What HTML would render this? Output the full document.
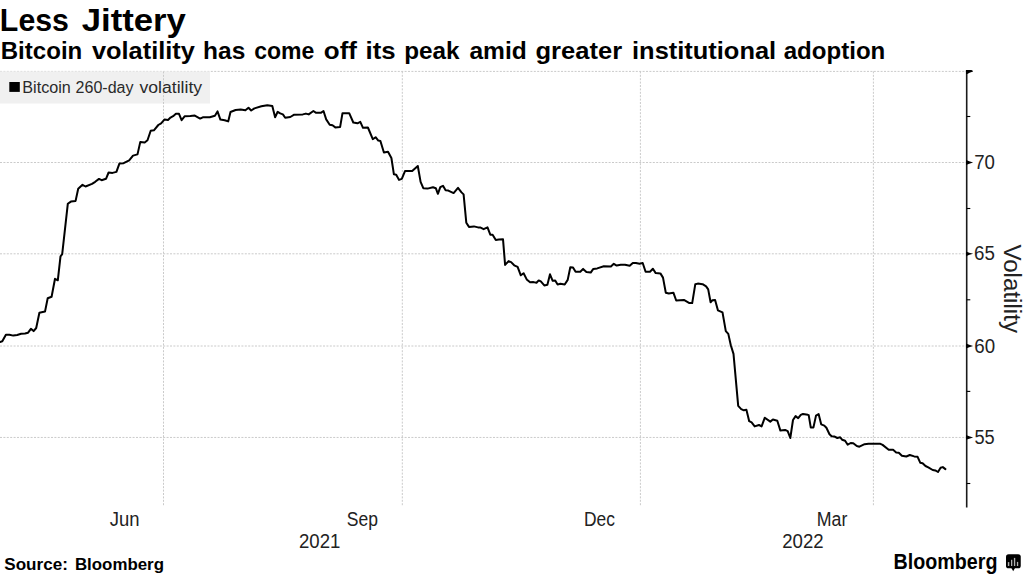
<!DOCTYPE html>
<html><head><meta charset="utf-8"><style>
html,body{margin:0;padding:0;background:#fff;}
svg{display:block;}
text{font-family:"Liberation Sans",sans-serif;}
.g{stroke:#cacaca;stroke-width:1;stroke-dasharray:2 1.4;}
.t{font-size:19.5px;fill:#222;}
</style></head><body>
<svg width="1024" height="576" viewBox="0 0 1024 576">
<rect width="1024" height="576" fill="#fff"/>
<text x="-0.13" y="31.3" font-size="32" font-weight="bold" fill="#000" textLength="69.09" lengthAdjust="spacingAndGlyphs">Less</text><text x="81.66" y="31.3" font-size="32" font-weight="bold" fill="#000" textLength="104.27" lengthAdjust="spacingAndGlyphs">Jittery</text>
<text x="0.70" y="58.7" font-size="24" font-weight="bold" fill="#000" textLength="81.59" lengthAdjust="spacingAndGlyphs">Bitcoin</text><text x="91.94" y="58.7" font-size="24" font-weight="bold" fill="#000" textLength="102.88" lengthAdjust="spacingAndGlyphs">volatility</text><text x="203.11" y="58.7" font-size="24" font-weight="bold" fill="#000" textLength="42.22" lengthAdjust="spacingAndGlyphs">has</text><text x="254.24" y="58.7" font-size="24" font-weight="bold" fill="#000" textLength="60.13" lengthAdjust="spacingAndGlyphs">come</text><text x="323.82" y="58.7" font-size="24" font-weight="bold" fill="#000" textLength="33.18" lengthAdjust="spacingAndGlyphs">off</text><text x="365.52" y="58.7" font-size="24" font-weight="bold" fill="#000" textLength="30.07" lengthAdjust="spacingAndGlyphs">its</text><text x="404.18" y="58.7" font-size="24" font-weight="bold" fill="#000" textLength="55.37" lengthAdjust="spacingAndGlyphs">peak</text><text x="469.43" y="58.7" font-size="24" font-weight="bold" fill="#000" textLength="57.32" lengthAdjust="spacingAndGlyphs">amid</text><text x="535.54" y="58.7" font-size="24" font-weight="bold" fill="#000" textLength="86.56" lengthAdjust="spacingAndGlyphs">greater</text><text x="632.05" y="58.7" font-size="24" font-weight="bold" fill="#000" textLength="144.09" lengthAdjust="spacingAndGlyphs">institutional</text><text x="783.75" y="58.7" font-size="24" font-weight="bold" fill="#000" textLength="101.52" lengthAdjust="spacingAndGlyphs">adoption</text>
<line x1="0" y1="71.40" x2="966.7" y2="71.40" class="g"/><line x1="0" y1="162.50" x2="966.7" y2="162.50" class="g"/><line x1="0" y1="253.80" x2="966.7" y2="253.80" class="g"/><line x1="0" y1="346.00" x2="966.7" y2="346.00" class="g"/><line x1="0" y1="437.45" x2="966.7" y2="437.45" class="g"/>
<rect x="0" y="71.4" width="210" height="32.1" fill="#f0f0f0"/>
<line x1="163.5" y1="71.4" x2="163.5" y2="505.5" class="g"/><line x1="402.3" y1="71.4" x2="402.3" y2="505.5" class="g"/><line x1="640.4" y1="71.4" x2="640.4" y2="505.5" class="g"/><line x1="873.4" y1="71.4" x2="873.4" y2="505.5" class="g"/>
<rect x="9.3" y="82" width="10.5" height="9.9" fill="#000"/>
<text x="22.34" y="93" font-size="16" font-weight="normal" fill="#2a2a2a" textLength="48.50" lengthAdjust="spacingAndGlyphs">Bitcoin</text><text x="75.55" y="93" font-size="16" font-weight="normal" fill="#2a2a2a" textLength="57.93" lengthAdjust="spacingAndGlyphs">260-day</text><text x="139.50" y="93" font-size="16" font-weight="normal" fill="#2a2a2a" textLength="62.57" lengthAdjust="spacingAndGlyphs">volatility</text>
<path d="M0.0,342.0 L2.3,341.3 L5.9,334.7 L9.4,334.7 L13.3,335.6 L17.2,335.0 L21.1,333.8 L25.0,333.4 L28.1,332.7 L30.9,328.8 L33.6,331.1 L36.2,328.0 L39.4,312.8 L45.0,311.6 L47.7,298.3 L51.6,296.7 L55.0,278.8 L57.8,280.3 L60.5,256.4 L62.2,254.2 L67.8,203.8 L70.9,201.6 L75.6,200.9 L78.2,188.7 L82.5,184.8 L85.5,186.5 L92.0,183.9 L95.2,181.8 L99.0,178.9 L101.6,180.2 L106.0,178.8 L108.6,172.5 L112.5,172.9 L116.4,171.9 L119.4,163.6 L123.6,163.2 L129.2,160.4 L133.0,155.6 L137.5,154.4 L140.3,141.9 L144.7,142.5 L147.5,140.3 L150.7,130.8 L153.9,130.3 L158.3,125.0 L161.1,123.3 L164.6,119.4 L168.0,119.9 L170.5,117.6 L173.1,116.2 L175.9,113.8 L179.0,113.8 L181.6,120.2 L184.8,116.2 L190.3,116.1 L194.8,115.6 L200.1,118.6 L202.8,117.3 L209.8,117.3 L214.9,115.7 L217.5,111.4 L220.4,119.6 L224.7,120.2 L228.2,121.4 L230.5,112.0 L235.6,110.0 L240.7,109.5 L245.4,110.2 L248.5,107.7 L251.2,110.5 L254.4,108.4 L261.4,106.3 L267.3,105.2 L272.3,106.1 L275.1,117.3 L277.7,111.8 L280.2,113.4 L282.9,114.4 L285.2,117.8 L290.3,117.0 L294.2,114.7 L302.8,114.4 L305.9,113.6 L308.7,114.4 L313.4,111.0 L316.1,112.8 L320.8,112.8 L323.5,111.0 L326.2,119.4 L329.7,124.7 L332.5,125.3 L335.3,127.4 L340.1,127.1 L342.5,113.2 L349.2,113.2 L353.3,122.5 L357.5,123.3 L360.3,121.9 L363.0,127.8 L367.9,127.5 L372.8,139.2 L375.6,137.2 L378.3,140.6 L380.4,141.0 L383.9,152.5 L388.0,151.7 L391.4,158.0 L393.9,174.3 L396.2,174.7 L399.0,179.9 L401.8,178.9 L405.0,171.1 L412.2,171.1 L417.8,166.0 L420.6,181.9 L423.3,188.2 L427.5,188.6 L433.0,187.2 L435.8,188.2 L437.9,193.8 L440.3,187.2 L443.0,185.8 L445.6,190.3 L448.3,190.6 L453.6,193.1 L458.0,187.8 L461.5,192.4 L463.6,194.4 L466.3,222.7 L469.0,226.9 L473.9,226.4 L478.0,227.4 L480.1,227.4 L483.6,229.2 L487.5,227.4 L490.3,234.7 L492.6,234.7 L495.8,239.9 L498.9,239.4 L503.0,239.2 L505.1,264.9 L508.6,261.1 L511.1,262.1 L514.2,265.3 L517.6,266.9 L520.8,275.3 L523.6,273.2 L526.7,279.4 L530.1,282.2 L533.5,282.1 L536.5,282.8 L538.7,280.4 L540.8,281.4 L544.3,285.4 L547.4,284.7 L550.0,274.3 L552.7,280.8 L555.2,280.5 L557.6,284.5 L560.4,283.8 L564.7,284.5 L567.7,279.9 L570.3,267.2 L573.0,267.4 L575.6,271.7 L580.3,271.7 L583.1,268.9 L586.4,271.9 L590.7,272.6 L593.3,268.9 L597.2,268.4 L603.8,266.3 L610.9,266.5 L613.8,263.8 L616.7,265.6 L620.8,264.8 L625.0,264.8 L629.7,265.8 L632.8,263.0 L635.9,263.0 L639.6,263.8 L642.7,263.0 L645.6,271.7 L650.0,271.7 L652.9,268.8 L655.7,273.1 L660.4,273.4 L663.0,277.6 L665.8,292.7 L668.8,293.5 L673.4,292.7 L676.2,300.5 L683.9,299.9 L689.4,303.1 L692.2,303.1 L695.3,284.2 L697.8,283.6 L702.6,284.2 L706.1,286.4 L708.2,289.4 L710.6,302.2 L712.4,300.3 L715.1,299.9 L717.9,310.3 L722.5,312.4 L725.8,331.1 L728.3,333.9 L730.8,345.2 L733.5,353.9 L738.2,405.9 L741.2,409.1 L743.9,410.3 L746.4,409.8 L749.2,421.2 L751.6,422.4 L754.7,426.4 L759.0,425.0 L761.6,426.4 L764.8,417.7 L770.3,421.6 L772.9,419.5 L777.3,420.7 L780.4,430.6 L785.1,429.9 L787.7,431.1 L790.3,438.0 L793.0,420.0 L795.6,416.1 L798.2,418.2 L800.8,414.9 L803.0,413.9 L807.8,414.8 L808.7,415.2 L810.8,427.6 L813.4,427.6 L816.0,415.6 L818.6,414.1 L821.2,424.3 L824.3,425.6 L826.4,427.8 L829.5,434.3 L831.6,436.3 L834.2,436.4 L837.3,438.0 L840.2,437.3 L842.1,439.7 L845.1,440.8 L847.7,444.7 L850.7,443.0 L853.3,443.2 L856.8,446.0 L859.4,446.7 L864.6,444.2 L868.5,443.8 L880.4,443.8 L882.6,444.9 L888.7,449.8 L893.1,449.8 L896.2,452.4 L898.8,452.7 L901.9,455.7 L906.3,456.5 L909.8,455.0 L914.2,456.4 L917.6,456.8 L920.2,462.7 L922.6,463.2 L925.5,466.0 L928.3,467.4 L932.7,470.0 L935.3,470.4 L938.0,472.0 L940.6,467.8 L942.8,467.1 L945.4,469.1" fill="none" stroke="#000" stroke-width="2" stroke-linejoin="round" stroke-linecap="round"/>
<line x1="966.7" y1="70" x2="966.7" y2="507.6" stroke="#1a1a1a" stroke-width="1.6"/>
<path d="M966.0,160.10 Q968.9,161.40 973.1,162.50 Q968.9,163.60 966.0,164.90Z" fill="#000"/><path d="M966.0,251.40 Q968.9,252.70 973.1,253.80 Q968.9,254.90 966.0,256.20Z" fill="#000"/><path d="M966.0,343.60 Q968.9,344.90 973.1,346.00 Q968.9,347.10 966.0,348.40Z" fill="#000"/><path d="M966.0,435.05 Q968.9,436.35 973.1,437.45 Q968.9,438.55 966.0,439.85Z" fill="#000"/><path d="M966.0,70 L971.3,70 Q972.7,70.4 973.1,71.40 Q968.9,72.40 967.3,74 L966.0,74Z" fill="#000"/><line x1="966.7" y1="116.50" x2="970.3" y2="116.50" stroke="#000" stroke-width="1.1"/><line x1="966.7" y1="208.50" x2="970.3" y2="208.50" stroke="#000" stroke-width="1.1"/><line x1="966.7" y1="299.80" x2="970.3" y2="299.80" stroke="#000" stroke-width="1.1"/><line x1="966.7" y1="391.40" x2="970.3" y2="391.40" stroke="#000" stroke-width="1.1"/><line x1="966.7" y1="483.50" x2="970.3" y2="483.50" stroke="#000" stroke-width="1.1"/>
<text x="974.14" y="168.8" font-size="19.5" font-weight="normal" fill="#222" textLength="20.73" lengthAdjust="spacingAndGlyphs">70</text><text x="974.04" y="260.3" font-size="19.5" font-weight="normal" fill="#222" textLength="20.84" lengthAdjust="spacingAndGlyphs">65</text><text x="974.24" y="352.6" font-size="19.5" font-weight="normal" fill="#222" textLength="20.83" lengthAdjust="spacingAndGlyphs">60</text><text x="974.50" y="443.6" font-size="19.5" font-weight="normal" fill="#222" textLength="20.26" lengthAdjust="spacingAndGlyphs">55</text>
<text transform="translate(1003.9,244.4) rotate(90)" font-size="23" fill="#222" textLength="88.6" lengthAdjust="spacingAndGlyphs">Volatility</text>
<text x="109.66" y="526.4" font-size="19.5" font-weight="normal" fill="#222" textLength="29.78" lengthAdjust="spacingAndGlyphs">Jun</text><text x="346.80" y="526.4" font-size="19.5" font-weight="normal" fill="#222" textLength="31.13" lengthAdjust="spacingAndGlyphs">Sep</text><text x="584.06" y="526.4" font-size="19.5" font-weight="normal" fill="#222" textLength="30.93" lengthAdjust="spacingAndGlyphs">Dec</text><text x="816.83" y="526.4" font-size="19.5" font-weight="normal" fill="#222" textLength="30.58" lengthAdjust="spacingAndGlyphs">Mar</text>
<text x="298.95" y="547.8" font-size="19.5" font-weight="normal" fill="#222" textLength="41.40" lengthAdjust="spacingAndGlyphs">2021</text><text x="782.25" y="547.7" font-size="19.5" font-weight="normal" fill="#222" textLength="41.40" lengthAdjust="spacingAndGlyphs">2022</text>
<text x="4.26" y="569.5" font-size="15.7" font-weight="bold" fill="#000" textLength="63.59" lengthAdjust="spacingAndGlyphs">Source:</text><text x="74.92" y="569.5" font-size="15.7" font-weight="bold" fill="#000" textLength="89.10" lengthAdjust="spacingAndGlyphs">Bloomberg</text>
<text x="893.62" y="569.1" font-size="21.4" font-weight="bold" fill="#000" textLength="103.87" lengthAdjust="spacingAndGlyphs">Bloomberg</text>
<g transform="translate(1006,554.2)">
<rect x="0" y="0" width="14.75" height="14.1" rx="2.6" fill="#000"/>
<path d="M5.4,13.9 L7.2,17.05 L9,13.9Z" fill="#000"/>
<rect x="1.85" y="7.9" width="1.45" height="3.9" fill="#b0b0b0"/>
<rect x="5" y="5.6" width="1.3" height="6.2" fill="#b0b0b0"/>
<rect x="7.9" y="3.7" width="1.35" height="8.1" fill="#b0b0b0"/>
<rect x="10.9" y="7.7" width="1.3" height="4.1" fill="#b0b0b0"/>
</g>
</svg>
</body></html>
